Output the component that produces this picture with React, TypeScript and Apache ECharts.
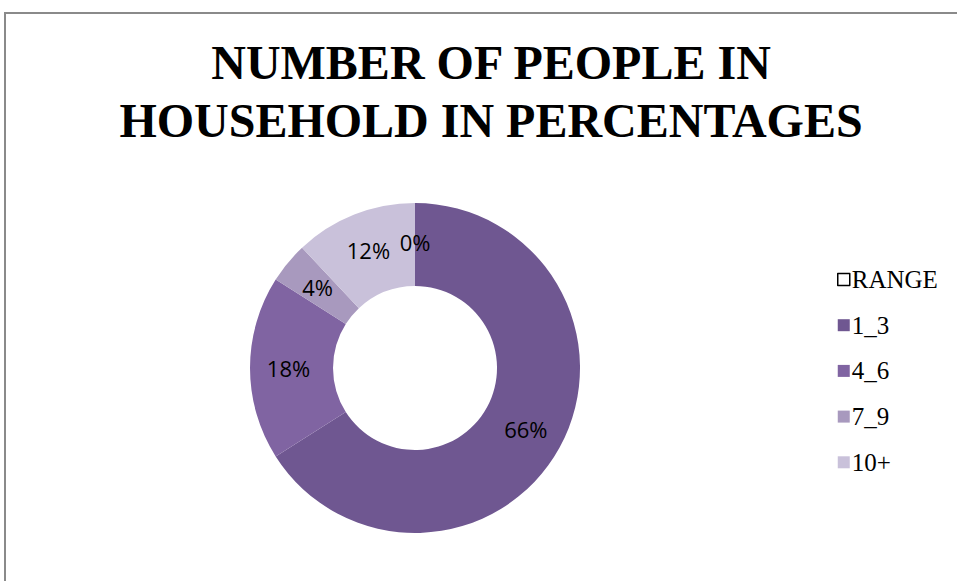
import React, { useEffect, useRef } from "react";
import * as echarts from "echarts";

const categories = ["RANGE", "1_3", "4_6", "7_9", "10+"];
const values = [0, 66, 18, 4, 12];
const colors = ["#ffffff", "#6F5791", "#8064A2", "#A899BE", "#C9C1DA"];
const titleLines = ["NUMBER OF PEOPLE IN", "HOUSEHOLD IN PERCENTAGES"];

export default function App() {
  const ref = useRef<HTMLDivElement>(null);
  useEffect(() => {
    const chart = echarts.init(ref.current!, null, { renderer: "svg" });
    chart.setOption({
      animation: false,
      backgroundColor: "#ffffff",
      title: {
        text: titleLines.join("\n"),
        left: 486,
        textAlign: "center",
        top: 28,
        textStyle: {
          fontFamily: "Liberation Serif",
          fontWeight: "bold",
          fontSize: 48,
          lineHeight: 58,
          color: "#000000",
        },
      },
      graphic: [
        {
          type: "rect",
          shape: { x: 5, y: 13, width: 1000, height: 700 },
          style: { fill: "none", stroke: "#8a8a8a", lineWidth: 2 },
          silent: true,
        },
      ],
      legend: {
        orient: "vertical",
        left: 832,
        top: 262,
        itemWidth: 12,
        itemHeight: 12,
        itemGap: 20.7,
        icon: "rect",
        textStyle: {
          fontFamily: "Liberation Serif",
          fontSize: 25,
          lineHeight: 25,
          color: "#000",
          padding: [0, 0, 0, -3],
        },
        data: categories.map((c, i) =>
          i === 0
            ? { name: c, itemStyle: { color: "#ffffff", borderColor: "#000000", borderWidth: 1.5 } }
            : { name: c }
        ),
      },
      series: [
        {
          type: "pie",
          center: [415, 368],
          radius: [82, 165],
          startAngle: 90,
          clockwise: true,
          avoidLabelOverlap: false,
          label: {
            show: true,
            position: "inside",
            formatter: (p: any) => `${p.value}%`,
            fontFamily: "Open Sans",
            fontSize: 22,
            color: "#000",
          },
          labelLine: { show: false },
          emphasis: { disabled: true },
          data: categories.map((c, i) => ({
            name: c,
            value: values[i],
            itemStyle: { color: colors[i] },
          })),
        },
      ],
    });
    return () => chart.dispose();
  }, []);
  return <div ref={ref} style={{ position: "fixed", left: 0, top: 0, width: 957, height: 581 }} />;
}
